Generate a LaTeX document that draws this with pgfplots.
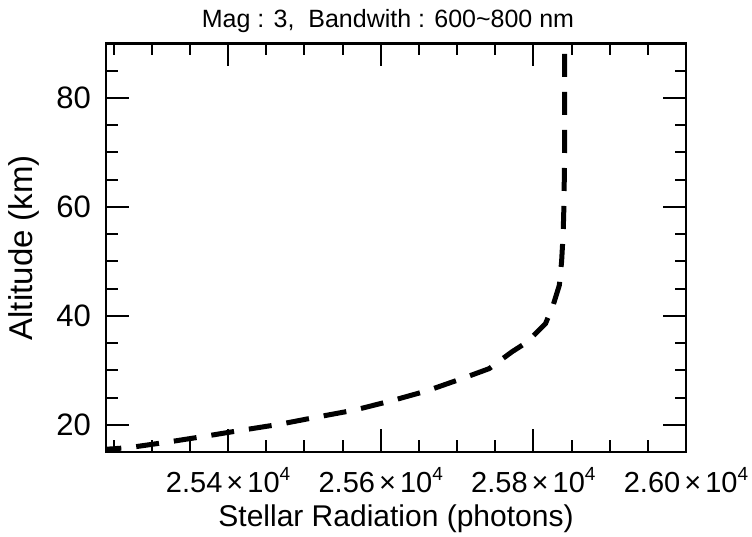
\documentclass[border=0pt]{standalone}
\usepackage{fontspec}
\setmainfont{Liberation Sans}
\usepackage{pgfplots}
\pgfplotsset{compat=1.18}
\newcommand\xl[1]{#1\hspace{0.14em}×\hspace{0.14em}10\raisebox{0.8ex}{\fontsize{9.5bp}{10bp}\selectfont 4}}
\begin{document}
\begin{tikzpicture}
\begin{axis}[
  scale only axis,
  width=290bp, height=204.25bp,
  xmin=25240, xmax=26000, ymin=15, ymax=90,
  scaled x ticks=false,
  xtick={25400,25600,25800,26000},
  xticklabels={\xl{2.54},\xl{2.56},\xl{2.58},\xl{2.60}},
  minor xtick={25250,25300,25350,25450,25500,25550,25650,25700,25750,25850,25900,25950},
  ytick={20,40,60,80},
  minor ytick={25,30,35,45,50,55,65,70,75,85},
  tick align=inside,
  major tick length=11.5bp,
  minor tick length=5.75bp,
  every tick/.style={black, line width=1bp},
  axis line style={black, line width=1.2bp},
  /pgf/number format/assume math mode=true,
  xticklabel style={font=\fontsize{14.5bp}{16bp}\selectfont, yshift=-4bp},
  yticklabel style={font=\fontsize{15.5bp}{17bp}\selectfont, xshift=-4bp},
  xlabel={Stellar Radiation (photons)},
  ylabel={Altitude (km)},
  xlabel style={font=\fontsize{15bp}{17bp}\selectfont, at={(axis description cs:0.5,0)}, anchor=base, yshift=-37.5bp},
  ylabel style={font=\fontsize{16.5bp}{18bp}\selectfont, at={(axis description cs:-0.1259,0.5)}, anchor=base},
  title={Mag : 3,\ \ Bandwith : 600\textasciitilde 800 nm},
  title style={font=\fontsize{12.5bp}{14bp}\selectfont, at={(axis description cs:0.5,1)}, anchor=base, yshift=2bp, xshift=-4bp},
]
\addplot[black, line width=2.5bp, dash pattern=on 11.5bp off 7.5bp] coordinates {
(25230,15.4) (25270,15.8) (25320,16.8) (25370,17.9) (25418,19.0) (25468,20.1)
(25516,21.4) (25566,22.7) (25614,24.4) (25660,26.2) (25709,28.6) (25742,30.3)
(25772,33.4) (25792,35.2) (25816,38.6) (25826,42.0) (25834,45.6) (25837,50.0)
(25839,55) (25840,60) (25841,70) (25841,80) (25841,91)
};
\coordinate (BL) at (rel axis cs:0,0);
\coordinate (TR) at (rel axis cs:1,1);
\end{axis}
\pgfresetboundingbox
\path ([xshift=-53bp,yshift=-42.5bp]BL) rectangle ([xshift=33bp,yshift=21.75bp]TR);
\end{tikzpicture}
\end{document}
